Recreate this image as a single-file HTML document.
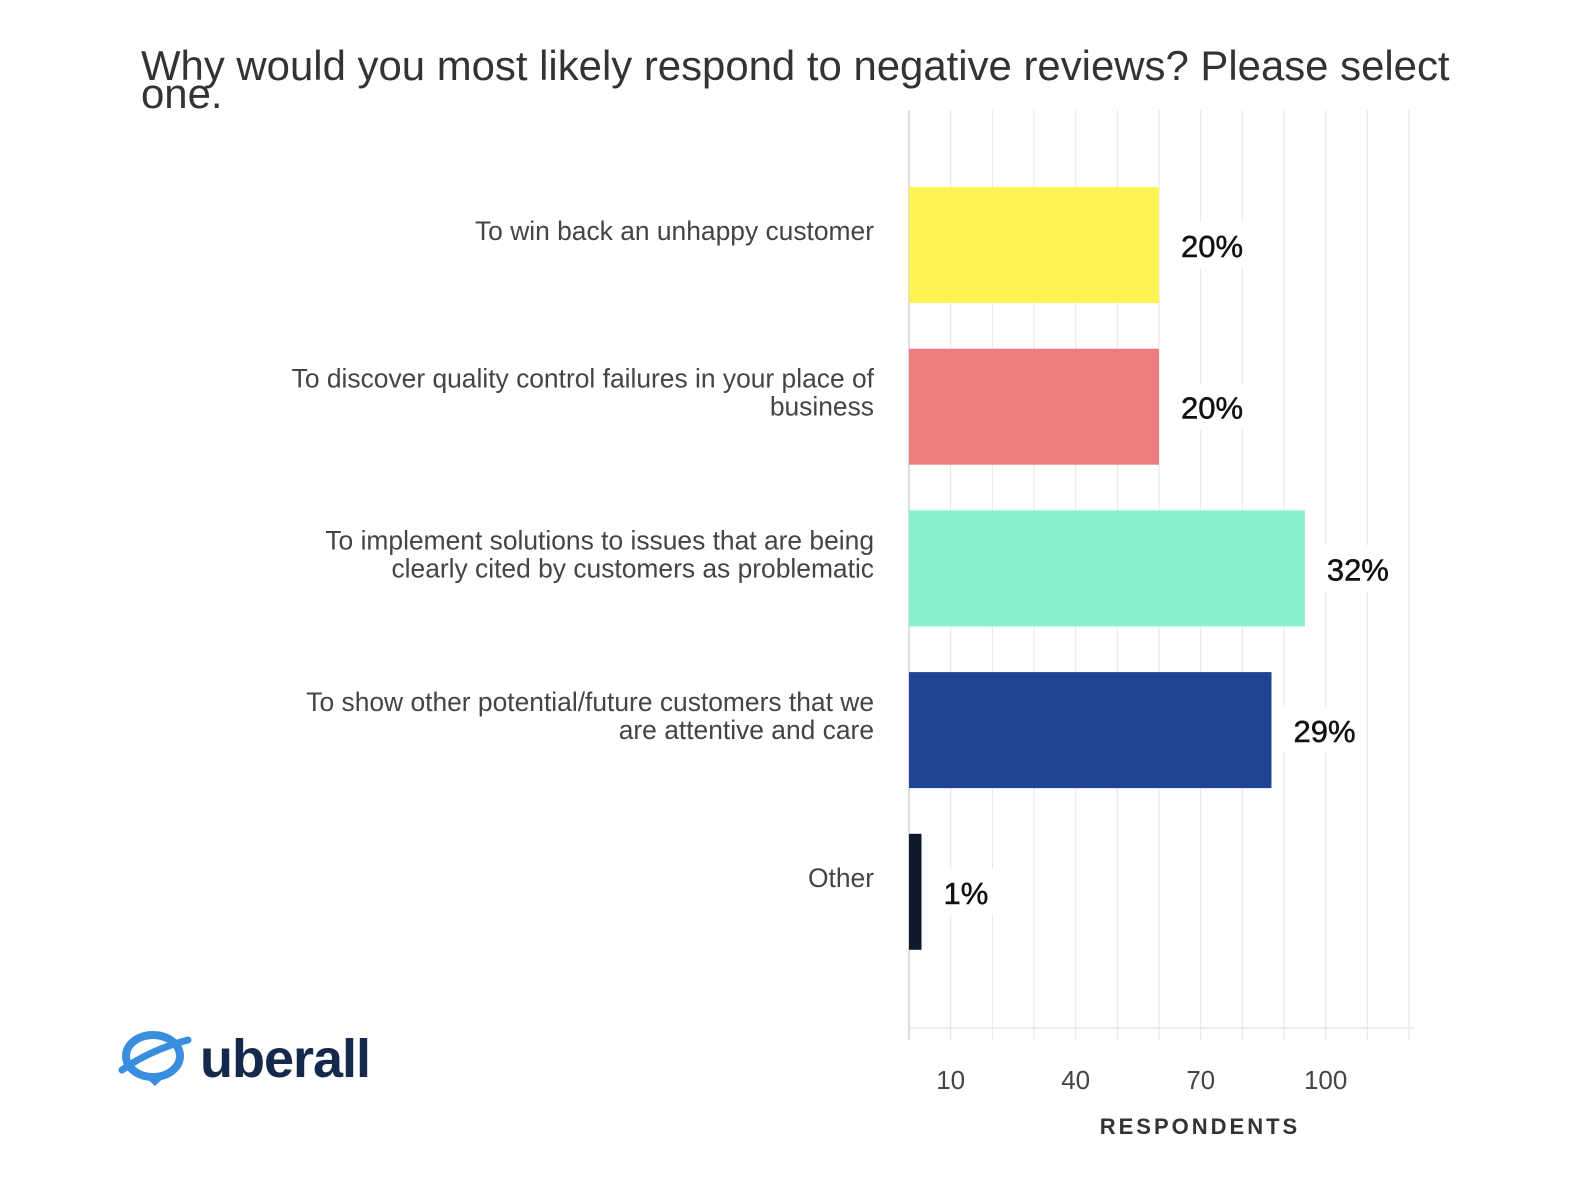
<!DOCTYPE html>
<html><head><meta charset="utf-8"><style>
body{margin:0;background:#fff;width:1576px;height:1174px;overflow:hidden;font-family:"Liberation Sans",sans-serif}
</style></head><body>
<svg id="chart" width="1576" height="1174" xmlns="http://www.w3.org/2000/svg" font-family="Liberation Sans, sans-serif">
<text x="141" y="80" font-size="41.9" fill="#333">Why would you most likely respond to negative reviews? Please select</text>
<text x="141" y="108" font-size="41.9" fill="#333">one.</text>
<g id="grid"></g>
<g id="bars"></g>
<g id="labels"></g>
<g id="xticks"></g>
<text x="1200" y="1134" font-size="22" font-weight="bold" fill="#333" letter-spacing="3" text-anchor="middle">RESPONDENTS</text>
<g>
<ellipse cx="153" cy="1056" rx="27" ry="21" fill="none" stroke="#3a8ee0" stroke-width="8"/>
<path d="M122 1070 Q150 1050 188 1040" fill="none" stroke="#3a8ee0" stroke-width="7" stroke-linecap="round"/>
<path d="M143 1075 L155 1086 L170 1072 Z" fill="#3a8ee0"/>
<text x="200" y="1077" font-size="54" font-weight="bold" fill="#14294b" letter-spacing="-1">uberall</text>
</g>
</svg>
<script>
const categories = [["To win back an unhappy customer"],["To discover quality control failures in your place of","business"],["To implement solutions to issues that are being","clearly cited by customers as problematic"],["To show other potential/future customers that we","are attentive and care"],["Other"]];
const values = [60, 60, 95, 87, 3];
const percents = ["20%","20%","32%","29%","1%"];
const colors = ["#fdf453","#ed7d81","#87f0cc","#214394","#0e1a2b"];
const tickValues = [10,40,70,100];
const NS="http://www.w3.org/2000/svg";
const x0=909, pxPer=4.1667, yTop=110, yBot=1028;
const x = v => x0 + v*pxPer;
const rowY = i => 187 + i*161.7;
function el(t,a,p){const e=document.createElementNS(NS,t);for(const k in a)e.setAttribute(k,a[k]);document.getElementById(p).appendChild(e);return e;}
for(let v=0; v<=120; v+=10){
  const g=el('line',{x1:x(v),x2:x(v),y1:yTop,y2:1040,stroke:v===0?'#bbb':'#e6e6e6','stroke-width':1},'grid');
  
  
}
const ax=el('line',{x1:x0,x2:1415,y1:yBot,y2:yBot,stroke:'#ddd'},'grid');


values.forEach((v,i)=>{
  const y=rowY(i);
  const r=el('rect',{x:x0,y:y,width:x(v)-x0,height:116,fill:colors[i]},'bars');
  
  
  const bg=el('rect',{x:x(v)+8,y:y+35,width:80,height:46,fill:'#fff'},'bars');
  
  
  const t=el('text',{x:x(v)+22,y:y+70,'font-size':31,fill:'#111','stroke':'#111','stroke-width':0.5},'bars');
  t.textContent=percents[i];
  
  
  const lines=categories[i];
  const cy=y+57-(lines.length-1)*14;
  lines.forEach((s,j)=>{
    const l=el('text',{x:874,y:cy+j*28-4,'font-size':26.4,fill:'#444','text-anchor':'end'},'labels');
    l.textContent=s;
    
    
  });
});
tickValues.forEach(v=>{
  const t=el('text',{x:x(v),y:1089,'font-size':26,fill:'#444','text-anchor':'middle'},'xticks');
  t.textContent=v;
  
  
});
</script>
</body></html>
